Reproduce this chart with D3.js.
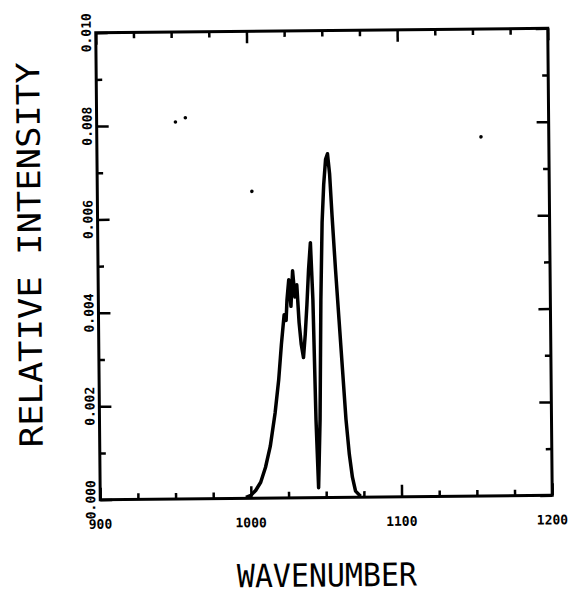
<!DOCTYPE html>
<html>
<head>
<meta charset="utf-8">
<title>Relative intensity vs wavenumber</title>
<style>
  body { margin: 0; background: #fff; }
  svg { display: block; }
  .axis path, .axis line { stroke: #000; stroke-width: 2.5; }
  .tick-label { font-family: "DejaVu Sans Mono", monospace; font-weight: bold; font-size: 13px; fill: #000; }
  .title { font-family: "DejaVu Sans Mono", monospace; font-size: 32px; fill: #000; }
</style>
</head>
<body>
<svg id="chart" width="573" height="597"></svg>
<script src="https://d3js.org/d3.v7.min.js"></script>
<script>
// spectrum
var wavenumber = [996.7, 1000.0, 1003.3, 1006.6, 1009.9, 1013.2, 1016.6, 1019.2, 1021.2, 1023.2,
                  1024.5, 1025.2, 1026.5, 1027.8, 1029.1, 1030.5, 1031.8, 1033.1, 1034.4, 1035.8,
                  1037.1, 1038.4, 1039.7, 1041.1, 1042.4, 1043.7, 1045.0, 1046.4, 1047.7, 1049.0,
                  1050.3, 1051.7, 1053.0, 1054.3, 1055.6, 1057.6, 1059.6, 1061.6, 1063.6, 1065.6,
                  1067.5, 1069.5, 1072.8];
var intensity  = [0.00002, 0.00006, 0.00017, 0.00034, 0.00066, 0.00111, 0.00182, 0.00253, 0.00328, 0.00392,
                  0.00380, 0.00424, 0.00467, 0.00410, 0.00486, 0.00430, 0.00456, 0.00375, 0.00328, 0.00300,
                  0.00349, 0.00413, 0.00488, 0.00546, 0.00424, 0.00167, 0.00021, 0.00167, 0.00424, 0.00589,
                  0.00670, 0.00724, 0.00736, 0.00692, 0.00606, 0.00488, 0.00381, 0.00274, 0.00167, 0.00092,
                  0.00043, 0.00013, 0.00002];

// stray specks on the scan
var speckWavenumber = [952.3, 958.9, 1002.6, 1155.0];
var speckIntensity  = [0.00807, 0.00816, 0.00657, 0.00769];

var xMajor = [900, 1000, 1100, 1200];
var xMinor = [925, 950, 975, 1025, 1050, 1075, 1125, 1150, 1175];
var xLabels = ['900', '1000', '1100', '1200'];
var yMajor = [0, 0.002, 0.004, 0.006, 0.008, 0.010];
var yMinor = [0.001, 0.003, 0.005, 0.007, 0.009];
var yLabels = ['0.000', '0.002', '0.004', '0.006', '0.008', '0.010'];

var svg = d3.select('#chart'),
    padding = {top: 30.5, left: 98},
    w = 452,
    h = 467;

// the scan is tilted a little
var g = svg.append('g')
    .attr('transform', 'rotate(-0.55,324,264) translate(' + padding.left + ',' + padding.top + ')');

var x = d3.scaleLinear().domain([900, 1200]).range([0, w]),
    y = d3.scaleLinear().domain([0, 0.010]).range([h, 0]);

function ticks(axisFn, scale, values, size, tr) {
    g.append('g')
      .attr('class', 'axis')
      .attr('transform', tr)
      .call(axisFn(scale).tickValues(values).tickSize(size).tickSizeOuter(0).tickFormat(''))
      .call(function(s) { s.select('.domain').remove(); });
}

ticks(d3.axisBottom, x, xMajor, -12, 'translate(0,' + h + ')');
ticks(d3.axisBottom, x, xMinor, -6, 'translate(0,' + h + ')');
ticks(d3.axisTop, x, xMajor, -12, 'translate(0,0)');
ticks(d3.axisTop, x, xMinor, -6, 'translate(0,0)');
ticks(d3.axisLeft, y, yMajor, -12, 'translate(0,0)');
ticks(d3.axisLeft, y, yMinor, -6, 'translate(0,0)');
ticks(d3.axisRight, y, yMajor, -12, 'translate(' + w + ',0)');
ticks(d3.axisRight, y, yMinor, -6, 'translate(' + w + ',0)');

// frame
g.append('rect')
  .attr('width', w)
  .attr('height', h)
  .attr('fill', 'none')
  .attr('stroke', '#000')
  .attr('stroke-width', 3);

// tick labels
g.selectAll('.xl')
  .data(xMajor)
  .enter().append('text')
  .attr('class', 'tick-label')
  .attr('x', function(d) { return x(d); })
  .attr('y', h + 29)
  .attr('text-anchor', 'middle')
  .text(function(d, i) { return xLabels[i]; });

g.selectAll('.yl')
  .data(yMajor)
  .enter().append('text')
  .attr('class', 'tick-label')
  .attr('transform', function(d) { return 'translate(-5,' + y(d) + ') rotate(-90)'; })
  .attr('text-anchor', 'middle')
  .text(function(d, i) { return yLabels[i]; });

// axis titles
g.append('text')
  .attr('class', 'title')
  .attr('transform', 'translate(-57,' + (h / 2 - 12) + ') rotate(-90)')
  .attr('text-anchor', 'middle')
  .attr('textLength', 385)
  .attr('lengthAdjust', 'spacingAndGlyphs')
  .text('RELATIVE INTENSITY');

g.append('text')
  .attr('class', 'title')
  .attr('x', w / 2)
  .attr('y', h + 89)
  .attr('text-anchor', 'middle')
  .attr('textLength', 180)
  .attr('lengthAdjust', 'spacingAndGlyphs')
  .text('WAVENUMBER');

// spectrum
var data = wavenumber.map(function(d, i) { return {w: d, v: intensity[i]}; });
var line = d3.line()
    .x(function(d) { return x(d.w); })
    .y(function(d) { return y(d.v); });

g.append('path')
  .datum(data)
  .attr('d', line)
  .attr('fill', 'none')
  .attr('stroke', '#000')
  .attr('stroke-width', 3.5)
  .attr('stroke-linejoin', 'round');

g.selectAll('.speck')
  .data(speckWavenumber)
  .enter().append('circle')
  .attr('cx', function(d) { return x(d); })
  .attr('cy', function(d, i) { return y(speckIntensity[i]); })
  .attr('r', 1.8)
  .attr('fill', '#000');
</script>
</body>
</html>
